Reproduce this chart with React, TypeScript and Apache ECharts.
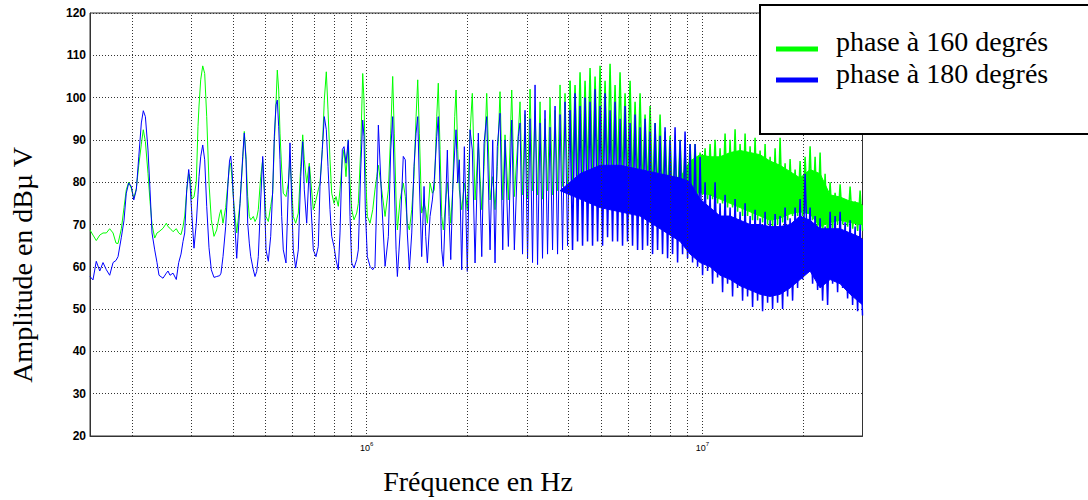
import React, { useEffect, useRef } from 'react';
import * as echarts from 'echarts';

// Frequencies in kHz (resolved harmonics region)
const lowFreqKHz = [
  150, 153.1, 156.6, 160.4, 164.0, 167.8, 171.7, 175.7, 179.3, 181.8,
  186.0, 189.4, 192.4, 195.6, 199.2, 202.5, 206.1, 209.6, 213.3, 216.2,
  219.3, 223.3, 226.4, 229.5, 233.8, 237.5, 240.8, 247.5, 253.2, 256.1,
  259.7, 265.1, 271.1, 275.6, 280.0, 283.9, 287.2, 291.2, 295.2, 297.8,
  301.9, 306.1, 311.0, 314.6, 316.8, 320.5, 325.0, 329.4, 334.0, 339.3,
  344.7, 351.1, 357.6, 365.1, 368.4, 373.5, 380.4, 386.5, 390.5, 393.7,
  397.2, 402.7, 410.3, 419.7, 427.6, 432.2, 437.3, 442.4, 447.3, 451.7,
  459.8, 465.1, 470.6, 475.8, 483.7, 490.4, 495.8, 501.6, 509.6, 518.0,
  525.2, 531.0, 537.2, 542.0, 547.2, 552.1, 558.6, 564.7, 575.3, 584.5,
  591.3, 598.2, 604.8, 614.9, 626.0, 636.4, 645.2, 652.3, 663.1, 675.0,
  683.0, 693.8, 706.7, 718.0, 726.4, 738.0, 748.2, 758.5, 767.4, 778.0,
  787.1, 799.6, 810.7, 823.6, 833.3, 846.6, 856.5, 868.2, 882.1, 892.4,
  902.9, 917.2, 934.4, 944.8, 960.4, 973.7, 982.4, 991.2, 1005, 1024,
  1043, 1059, 1072, 1084, 1109, 1135, 1161, 1180, 1196, 1209,
  1224, 1235, 1258, 1286, 1304, 1322, 1341, 1363, 1384, 1404,
  1420, 1436, 1459, 1483, 1500, 1517, 1545, 1570, 1591, 1618,
  1635, 1655, 1674, 1693, 1721, 1740, 1760, 1781, 1805, 1830,
  1847, 1868, 1889, 1920, 1955, 1995, 2033, 2065, 2104, 2152,
  2203, 2238, 2279, 2332, 2375, 2413, 2451, 2497, 2544, 2584,
  2644, 2706, 2755, 2831,
];

// "phase à 160 degrés" (dBµV)
const lowGreen = [
  68.7, 67.5, 66.2, 67.5, 68, 68, 69, 68, 65.6, 65.5,
  69, 74, 78.2, 80, 78.5, 76.2, 78.5, 84, 89, 92.4,
  89.6, 82.1, 75.5, 70, 66.8, 68, 68.3, 69.1, 70.3, 69.5,
  69.1, 68.3, 69, 68, 67.6, 69.5, 72, 78, 82, 81.3,
  76, 76.5, 80, 93.2, 98, 104.2, 107.5, 105.7, 95.5, 79.8,
  71.1, 67.2, 68.7, 72.5, 73.5, 70.3, 74, 80, 84, 84.5,
  81, 74.5, 68, 75, 85.3, 92, 86, 76.6, 71.9, 71.1,
  71.9, 70.7, 71.5, 73.5, 81.3, 85.3, 78.2, 71.9, 70.7, 74.3,
  77.4, 89.2, 98.7, 106.5, 101.8, 91.6, 82.9, 77.4, 76.6, 79.8,
  85.3, 79, 71.9, 70.3, 72.7, 83.7, 91.2, 85.3, 79.8, 84.5,
  79.8, 73.5, 75.8, 78.2, 79.8, 87.7, 99.4, 106.1, 97.1, 85.3,
  77.4, 75, 76.6, 74.3, 78.2, 85.3, 87.7, 81.3, 90, 79.8,
  73.5, 71.1, 72.7, 75, 87.7, 105.7, 99.4, 83.7, 71.9, 70.3,
  73.5, 78.2, 81.3, 84, 78.2, 71.9, 78.2, 91.6, 105, 91.6,
  75.8, 68.7, 75.8, 79.8, 76.6, 70.3, 68.7, 73.5, 81.3, 95.5,
  104.2, 91.6, 72.7, 75, 73.5, 70.3, 79.8, 77.4, 78.2, 95.5,
  103.4, 87.7, 71.9, 68.7, 75.8, 79.8, 75.8, 70.3, 78.2, 95.5,
  101.8, 87.7, 78.2, 73.5, 79.8, 73.5, 91.6, 101, 75.8, 89.2,
  73.5, 83.7, 101, 75.8, 81.3, 73.5, 83.7, 101.4, 75.8, 91.2,
  75.8, 101.8, 76.6, 91.6,
];

// "phase à 180 degrés" (dBµV)
const lowBlue = [
  57.7, 56.9, 61.3, 59, 61, 59.3, 58, 61, 61.5, 62.4,
  67, 71, 77.4, 79.8, 79, 75.8, 78.2, 86, 94, 96.9,
  95.5, 87.6, 78.2, 68, 64, 61, 58, 57.3, 58.5, 59,
  58, 58.5, 57, 61, 63, 66, 68, 78.2, 83, 79.8,
  71.9, 64.4, 70.3, 77, 81.3, 86, 88.8, 85.3, 74.3, 64.5,
  59.3, 57.5, 57.7, 57.9, 58.5, 62.4, 69.5, 79.8, 85, 86.2,
  83, 73.5, 62, 75, 86.1, 91.6, 85.3, 70.3, 65.6, 62.4,
  59.3, 57.7, 58.9, 62.4, 75.8, 86.1, 78.2, 64, 61.3, 67.2,
  78.2, 90.8, 98.3, 99.4, 93.1, 85.3, 71.9, 64, 60.9, 78.2,
  89.3, 75.8, 64, 59.7, 64, 81.3, 89.6, 78.2, 70.3, 83.7,
  74.3, 64, 62.4, 64.8, 79, 87.7, 95.5, 92.4, 83.7, 73.5,
  67.2, 64.8, 61.7, 59.3, 68, 87.7, 88.4, 84.5, 90, 71.9,
  60.9, 59.7, 61.7, 64, 82.9, 94.7, 90.8, 73.5, 62.4, 60.1,
  59.3, 60.1, 75.8, 93.5, 75.8, 60.1, 67.2, 87.6, 95.5, 79.8,
  64, 57.7, 68, 86.1, 85.3, 68, 59.3, 68, 83.7, 91.6,
  95.5, 79.8, 62.4, 79, 67.2, 60.9, 71.9, 75.8, 80.6, 90.8,
  95.5, 78.2, 64, 60.1, 75.8, 87.6, 71.9, 61.7, 78.2, 87.6,
  92.4, 79.8, 85.3, 59.3, 88.4, 58.9, 92.4, 87.6, 60.9, 91.6,
  62.4, 89.2, 95.5, 64, 90, 60.9, 88.4, 96.3, 64, 90,
  64.8, 94.7, 64, 90.8,
];

// Dense region: alternating harmonic peak / trough (kHz)
const highFreqKHz = [
  2864, 2914, 2964, 3016, 3068, 3121, 3175, 3230, 3286, 3342,
  3400, 3459, 3519, 3580, 3642, 3705, 3769, 3834, 3900, 3968,
  4036, 4106, 4177, 4250, 4323, 4398, 4474, 4551, 4630, 4710,
  4792, 4875, 4959, 5045, 5132, 5221, 5311, 5403, 5496, 5591,
  5688, 5786, 5887, 5988, 6092, 6197, 6305, 6414, 6525, 6637,
  6752, 6869, 6988, 7109, 7232, 7357, 7484, 7613, 7745, 7879,
  8015, 8154, 8295, 8439, 8585, 8733, 8884, 9038, 9194, 9353,
  9515, 9680, 9847, 10017, 10191, 10367, 10546, 10729, 10914, 11103,
  11295, 11491, 11689, 11891, 12097, 12306, 12519, 12736, 12956, 13180,
  13408, 13640, 13876, 14116, 14360, 14609, 14861, 15118, 15380, 15646,
  15917, 16192, 16472, 16757, 17047, 17342, 17642, 17947, 18257, 18573,
  18895, 19221, 19554, 19892, 20236, 20586, 20942, 21304, 21673, 22048,
  22429, 22817, 23212, 23614, 24022, 24438, 24860, 25290, 25728, 26173,
  26626, 27086, 27555, 28032, 28516, 29010, 29512, 30000,
];

const highGreen = [
  99, 77, 96, 76, 102, 78, 97, 77, 99, 76,
  95, 78, 100, 77, 97, 78, 103, 79, 101, 78,
  104, 80, 103, 79, 106, 80, 104, 81, 107, 80,
  105, 81, 107.5, 80, 104, 81, 108, 80, 103, 81,
  106, 80, 101, 80, 104, 79, 99, 79, 101, 78,
  96, 78, 98, 77, 94, 77, 96, 76, 92, 76,
  91, 75, 88, 75, 90, 76, 87.5, 76, 89, 76,
  89, 76, 87, 77, 88, 76, 89, 76, 90, 75,
  88, 75, 91.5, 74, 90, 74, 92.5, 73, 89, 72,
  91.5, 72, 88.5, 71, 90.5, 71, 87.5, 70.5, 89, 70,
  86, 69.5, 88, 70, 90.5, 70.5, 84.5, 71, 85.5, 72,
  83, 72, 85, 72, 86, 73, 88.5, 71, 86, 69,
  87, 67, 82, 66.5, 80, 69, 77.5, 70, 79.5, 70,
  76, 69.5, 79, 69, 75.5, 68.5, 78, 68.5,
];

const highBlue = [
  94, 63, 97, 62, 95, 61, 103, 60.5, 94, 62,
  97, 63, 93, 64, 98, 63, 96, 64, 99, 65,
  97, 64, 101, 66, 98, 65, 100, 66, 99, 65,
  102, 66, 98, 65, 101, 67, 97, 66, 99, 66,
  95, 65, 98, 66, 94, 65, 96, 64, 93, 64,
  95, 65, 92, 63, 94, 64, 91, 63, 93, 62,
  90, 63, 93, 61, 90, 63, 92, 62, 89, 61,
  89, 60, 86, 58, 80, 59, 77, 56, 80, 57.5,
  75, 54, 77, 56, 74, 53, 76, 55, 73, 52,
  75, 53, 72, 50.5, 73.5, 52, 71.5, 49.5, 73, 51.5,
  71, 50, 72.5, 51.5, 72, 50, 74, 53, 71.5, 52,
  74, 55, 76, 57, 82, 62, 74, 56, 72, 54.5,
  71.5, 52, 69.5, 51, 73, 56, 72, 54, 73, 55,
  70.5, 52.5, 71, 51, 69.5, 49.5, 70, 48.5,
];

// Solid core of the merged bands (kHz, dBµV lower / upper edge)
const greenCoreFreqKHz = [
  8585, 9194, 9847, 10546, 11295, 12097, 12956, 13876, 14861, 15917,
  17047, 18257, 19554, 20942, 22429, 24022, 25728, 27555, 29512, 30000,
];
const greenCoreLow = [
  80, 78, 77.5, 77, 76, 75, 74, 73, 72, 71,
  71.5, 72.5, 73, 72.5, 69.5, 70.5, 71, 70.5, 70, 70,
];
const greenCoreHigh = [
  81, 85, 86.5, 86, 86, 87, 87.5, 87, 86.5, 85,
  84, 82.5, 81, 83, 82, 77, 76.5, 75.5, 75, 74.5,
];
const blueCoreFreqKHz = [
  3769, 4323, 4959, 5688, 6525, 7484, 8585, 9194, 9847, 10546,
  11295, 12097, 12956, 13876, 14861, 15917, 17047, 18257, 19554, 20942,
  22429, 24022, 25728, 27555, 29512, 30000,
];
const blueCoreLow = [
  78, 76, 74, 73, 72, 69, 66, 63, 61, 60,
  58, 57, 55.5, 54.5, 53.5, 53, 53.5, 55, 57, 59,
  55, 57, 56, 53.5, 51.5, 51,
];
const blueCoreHigh = [
  78, 82, 84, 84, 83, 82, 81, 80, 76, 74,
  72, 72, 71, 70, 70, 69.5, 69.5, 70, 72, 71,
  69, 69, 69, 68, 67, 66.5,
];

const seriesNames = ['phase à 160 degrés', 'phase à 180 degrés'];
const seriesColors = ['#00ff00', '#0000ff'];
const minorGridHz = [
  2e5, 3e5, 4e5, 5e5, 6e5, 7e5, 8e5, 9e5,
  2e6, 3e6, 4e6, 5e6, 6e6, 7e6, 8e6, 9e6,
  2e7,
];
const xMinHz = 150000;
const xMaxHz = 30000000;
const yMin = 20;
const yMax = 120;
const yStep = 10;
// above this frequency the spectrum merges into a dense band
const solidBandFromHz = 4036000;

const SERIF = '"Liberation Serif", "Times New Roman", Times, serif';
const SANS = '"Liberation Sans", Arial, Helvetica, sans-serif';

export default function App() {
  const ref = useRef<HTMLDivElement>(null);

  useEffect(() => {
    const el = ref.current;
    if (!el) return;
    const chart = echarts.init(el, null, { renderer: 'svg' });

    const freqs = [...lowFreqKHz, ...highFreqKHz].map((f) => f * 1000);
    const green = [...lowGreen, ...highGreen];
    const blue = [...lowBlue, ...highBlue];
    const split = freqs.findIndex((f) => f >= solidBandFromHz);
    const mk = (vals: number[], from: number, to: number) =>
      freqs.slice(from, to).map((f, i) => [f, vals[from + i]]);

    const gridLine = { color: '#333', width: 1, type: [1, 2] as any };

    const lineSeries = (name: string, color: string, data: any[], width: number, z: number) => ({
      type: 'line',
      name,
      data,
      showSymbol: false,
      symbol: 'none',
      silent: true,
      z,
      lineStyle: { color, width },
      itemStyle: { color },
    });

    const coreSeries = (
      name: string,
      color: string,
      freqKHz: number[],
      low: number[],
      high: number[],
      z: number
    ) => {
      const hz = freqKHz.map((f) => f * 1000);
      return {
        type: 'custom',
        name,
        silent: true,
        z,
        clip: true,
        encode: { x: 0, y: [1, 2] },
        data: hz.map((f, i) => [f, low[i], high[i]]),
        renderItem: (params: any, api: any) => {
          if (params.dataIndex !== 0) return null;
          const top = hz.map((f, i) => api.coord([f, high[i]]));
          const bottom = hz.map((f, i) => api.coord([f, low[i]])).reverse();
          return {
            type: 'polygon',
            shape: { points: [...top, ...bottom] },
            style: { fill: color, stroke: color, lineWidth: 1 },
          };
        },
      };
    };

    chart.setOption({
      animation: false,
      textStyle: { fontFamily: SANS },
      grid: {
        left: 90,
        top: 13,
        right: 225.5,
        bottom: 64,
        show: true,
        borderColor: '#333',
        borderWidth: 1,
        backgroundColor: 'transparent',
      },
      xAxis: {
        type: 'log',
        logBase: 10,
        min: xMinHz,
        max: xMaxHz,
        axisLine: { show: true, lineStyle: { color: '#333', width: 1 } },
        axisTick: { show: false },
        splitLine: { show: true, lineStyle: gridLine },
        axisLabel: {
          margin: 5,
          color: '#000',
          formatter: (v: number) => {
            const e = Math.log10(v);
            if (Math.abs(e - Math.round(e)) > 1e-6) return '';
            return '{b|10}{s|' + Math.round(e) + '}';
          },
          rich: {
            b: { fontSize: 9, fontFamily: SANS, color: '#000' },
            s: { fontSize: 6, fontFamily: SANS, color: '#000', padding: [0, 0, 7, 0] },
          },
        },
      },
      yAxis: {
        type: 'value',
        min: yMin,
        max: yMax,
        interval: yStep,
        axisLine: { show: true, lineStyle: { color: '#333', width: 1 } },
        axisTick: { show: false },
        splitLine: { show: true, lineStyle: gridLine },
        axisLabel: {
          margin: 4,
          color: '#000',
          fontSize: 12,
          fontWeight: 'bold',
          fontFamily: SANS,
        },
      },
      graphic: [
        {
          type: 'text',
          x: 22.5,
          y: 265,
          rotation: Math.PI / 2,
          z: 100,
          style: {
            text: 'Amplitude en dBµ V',
            font: '28px ' + SERIF,
            fill: '#000',
            align: 'center',
            verticalAlign: 'middle',
          },
        },
        {
          type: 'text',
          x: 478,
          y: 481,
          z: 100,
          style: {
            text: 'Fréquence en Hz',
            font: '28px ' + SERIF,
            fill: '#000',
            align: 'center',
            verticalAlign: 'middle',
          },
        },
        {
          type: 'rect',
          z: 100,
          shape: { x: 760, y: 5, width: 340, height: 129 },
          style: { fill: '#fff', stroke: '#000', lineWidth: 2 },
        },
        {
          type: 'rect',
          z: 101,
          shape: { x: 776, y: 46.5, width: 42, height: 5 },
          style: { fill: seriesColors[0] },
        },
        {
          type: 'rect',
          z: 101,
          shape: { x: 776, y: 77.5, width: 42, height: 5 },
          style: { fill: seriesColors[1] },
        },
        {
          type: 'text',
          x: 836,
          y: 41,
          z: 101,
          style: {
            text: seriesNames[0],
            font: '28px ' + SERIF,
            fill: '#000',
            align: 'left',
            verticalAlign: 'middle',
          },
        },
        {
          type: 'text',
          x: 836,
          y: 73,
          z: 101,
          style: {
            text: seriesNames[1],
            font: '28px ' + SERIF,
            fill: '#000',
            align: 'left',
            verticalAlign: 'middle',
          },
        },
      ],
      series: [
        {
          type: 'line',
          name: 'grid',
          data: [],
          z: 1,
          silent: true,
          markLine: {
            silent: true,
            symbol: 'none',
            label: { show: false },
            lineStyle: gridLine,
            data: minorGridHz.map((v) => ({ xAxis: v })),
          },
        },
        coreSeries(seriesNames[0], seriesColors[0], greenCoreFreqKHz, greenCoreLow, greenCoreHigh, 2),
        lineSeries(seriesNames[0], seriesColors[0], mk(green, 0, split + 1), 1, 2),
        lineSeries(seriesNames[0], seriesColors[0], mk(green, split, freqs.length), 1.5, 2),
        coreSeries(seriesNames[1], seriesColors[1], blueCoreFreqKHz, blueCoreLow, blueCoreHigh, 3),
        lineSeries(seriesNames[1], seriesColors[1], mk(blue, 0, split + 1), 1, 3),
        lineSeries(seriesNames[1], seriesColors[1], mk(blue, split, freqs.length), 1.5, 3),
      ],
    });

    return () => chart.dispose();
  }, []);

  return (
    <div
      ref={ref}
      style={{ position: 'absolute', left: 0, top: 0, width: 1088, height: 500 }}
    />
  );
}
